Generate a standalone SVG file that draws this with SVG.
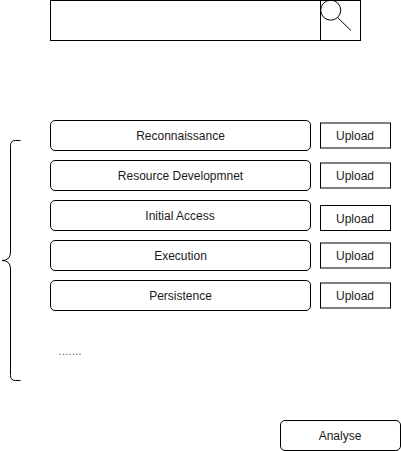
<svg xmlns="http://www.w3.org/2000/svg" width="401" height="451" viewBox="0 0 401 451">
<style>
.s{fill:#fff;stroke:#000;stroke-width:1}
.l{fill:none;stroke:#000;stroke-width:1}
.t{font-family:"Liberation Sans",Arial,sans-serif;font-size:12px;fill:#1a1a1a;text-anchor:middle}
</style>
<rect width="401" height="451" fill="#fff"/>
<g id="search">
<rect class="s" x="50.500" y="0.500" width="270" height="40"/>
<rect class="s" x="320.500" y="0.500" width="40" height="40"/>
<circle class="l" cx="330.700" cy="10.200" r="10"/>
<path class="l" d="M338 18L351 30.500"/>
</g>
<g id="brace"><path class="l" d="M20.500 140.500H15.500Q10.500 140.500 10.500 145.500V252Q10.500 260.500 2 260.500Q10.500 260.500 10.500 269V375.500Q10.500 380.500 15.500 380.500H20.500"/></g>
<g id="n1"><rect class="s" x="50.500" y="120.500" width="260" height="30" rx="4.500"/><text class="t" x="180.500" y="140">Reconnaissance</text></g>
<g id="n2"><rect class="s" x="50.500" y="160.500" width="260" height="30" rx="4.500"/><text class="t" x="180.500" y="180">Resource Developmnet</text></g>
<g id="n3"><rect class="s" x="50.500" y="200.500" width="260" height="30" rx="4.500"/><text class="t" x="180" y="220">Initial Access</text></g>
<g id="n4"><rect class="s" x="50.500" y="240.500" width="260" height="30" rx="4.500"/><text class="t" x="180.500" y="260">Execution</text></g>
<g id="n5"><rect class="s" x="50.500" y="280.500" width="260" height="30" rx="4.500"/><text class="t" x="180.500" y="300">Persistence</text></g>
<g id="u1"><rect class="s" x="320.500" y="123" width="70" height="25"/><text class="t" x="355" y="140">Upload</text></g>
<g id="u2"><rect class="s" x="320.500" y="163" width="70" height="25"/><text class="t" x="355" y="180">Upload</text></g>
<g id="u3"><rect class="s" x="320.500" y="205.500" width="70" height="25"/><text class="t" x="355" y="223">Upload</text></g>
<g id="u4"><rect class="s" x="320.500" y="243" width="70" height="25"/><text class="t" x="355" y="260">Upload</text></g>
<g id="u5"><rect class="s" x="320.500" y="283" width="70" height="25"/><text class="t" x="355" y="300">Upload</text></g>
<g id="dots"><text class="t" x="70" y="355" fill-opacity="0.7">.......</text></g>
<g id="analyse"><rect class="s" x="280.500" y="420.500" width="120" height="30" rx="4.500"/><text class="t" x="340" y="440">Analyse</text></g>
<g id="connectors"></g>
</svg>
